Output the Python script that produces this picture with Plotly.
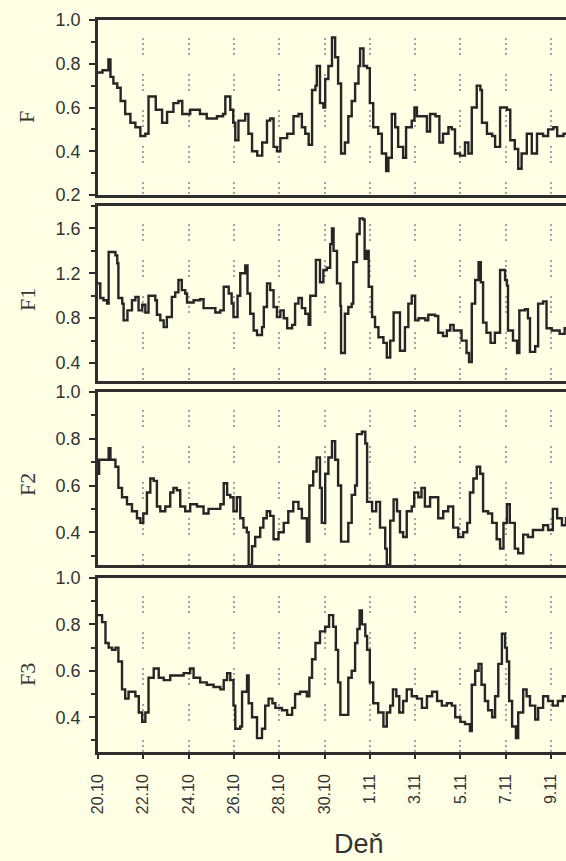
import plotly.graph_objects as go

# ---------------- data ----------------
tick_days = [0, 2, 4, 6, 8, 10, 12, 14, 16, 18, 20]
tick_labels = ["20.10", "22.10", "24.10", "26.10", "28.10", "30.10",
               "1.11", "3.11", "5.11", "7.11", "9.11"]

F_day = [0, 0.2, 0.46, 0.55, 0.68, 0.85, 1.0, 1.2, 1.43, 1.65, 1.87, 2.09, 2.23, 2.45, 2.55,
         2.83, 3.05, 3.33, 3.55, 3.72, 4.07, 4.5, 4.8, 5.25, 5.52, 5.62, 5.84, 5.97, 6.06,
         6.2, 6.5, 6.64, 6.8, 7.03, 7.25, 7.46, 7.6, 7.75, 7.9, 8.05, 8.35, 8.63, 8.85,
         9.0, 9.15, 9.3, 9.45, 9.6, 9.66, 9.8, 9.95, 10.03, 10.17, 10.33, 10.47, 10.6,
         10.73, 10.9, 11.05, 11.2, 11.35, 11.5, 11.57, 11.72, 11.88, 12.0, 12.15, 12.37,
         12.53, 12.72, 12.82, 12.97, 13.12, 13.25, 13.47, 13.6, 13.85, 13.97, 14.08, 14.3,
         14.52, 14.66, 14.9, 15.07, 15.23, 15.47, 15.62, 15.76, 15.98, 16.2, 16.35, 16.5,
         16.72, 16.88, 16.95, 17.17, 17.4, 17.53, 17.75, 18.05, 18.2, 18.4, 18.55, 18.7,
         18.93, 19.15, 19.38, 19.65, 19.87, 20.1, 20.27, 20.55, 20.8]
F_val = [0.76, 0.77, 0.82, 0.74, 0.71, 0.69, 0.63, 0.57, 0.53, 0.51, 0.47, 0.48, 0.65, 0.65, 0.59,
         0.53, 0.58, 0.62, 0.63, 0.57, 0.59, 0.57, 0.55, 0.56, 0.57, 0.65, 0.59, 0.53, 0.45,
         0.54, 0.57, 0.48, 0.40, 0.38, 0.44, 0.54, 0.55, 0.42, 0.40, 0.46, 0.48, 0.56, 0.57,
         0.51, 0.48, 0.43, 0.68, 0.70, 0.79, 0.62, 0.60, 0.73, 0.79, 0.92, 0.83, 0.71,
         0.39, 0.44, 0.56, 0.63, 0.71, 0.79, 0.87, 0.79, 0.78, 0.62, 0.51, 0.48,
         0.39, 0.31, 0.37, 0.57, 0.51, 0.42, 0.37, 0.51, 0.54, 0.60, 0.56, 0.56,
         0.49, 0.57, 0.56, 0.44, 0.48, 0.51, 0.50, 0.39, 0.38, 0.44, 0.39, 0.60,
         0.70, 0.68, 0.53, 0.48, 0.47, 0.42, 0.60, 0.59, 0.45, 0.41, 0.32, 0.39,
         0.48, 0.39, 0.48, 0.47, 0.50, 0.51, 0.47, 0.48, 0.48]

F1_day = [0, 0.1, 0.24, 0.4, 0.47, 0.77, 0.85, 0.9, 1.07, 1.13, 1.3, 1.5, 1.65, 1.79, 1.95,
          2.09, 2.23, 2.38, 2.53, 2.6, 2.75, 2.9, 3.04, 3.26, 3.41, 3.55, 3.7, 3.85, 3.93,
          4.22, 4.51, 4.66, 4.96, 5.18, 5.4, 5.55, 5.77, 5.9, 5.98, 6.16, 6.28, 6.5, 6.6,
          6.72, 6.87, 7.02, 7.24, 7.32, 7.46, 7.6, 7.75, 7.9, 8.05, 8.2, 8.35, 8.57, 8.7,
          8.85, 9.0, 9.15, 9.3, 9.37, 9.5, 9.62, 9.8, 9.95, 10.1, 10.25, 10.33, 10.4,
          10.55, 10.7, 10.73, 10.83, 10.9, 11.05, 11.2, 11.27, 11.43, 11.55, 11.7, 11.77,
          11.87, 11.95, 12.1, 12.23, 12.38, 12.6, 12.75, 12.9, 13.05, 13.25, 13.33, 13.47,
          13.55, 13.7, 13.85, 13.97, 14.0, 14.15, 14.45, 14.58, 14.88, 15.02, 15.23, 15.4,
          15.55, 15.7, 15.9, 16.05, 16.27, 16.38, 16.5, 16.65, 16.8, 16.9, 17.0, 17.15,
          17.33, 17.52, 17.67, 17.75, 17.97, 18.05, 18.1, 18.32, 18.5, 18.6, 18.85, 18.98,
          19.07, 19.3, 19.43, 19.65, 19.8, 20.03, 20.38, 20.6, 20.8]
F1_val = [1.11, 0.98, 0.96, 0.93, 1.39, 1.36, 1.29, 0.98, 0.93, 0.78, 0.87, 0.96, 0.99, 0.87, 0.92,
          0.85, 1.00, 1.00, 0.96, 0.83, 0.78, 0.72, 0.81, 0.99, 1.03, 1.14, 1.05, 1.02, 0.94,
          0.96, 0.97, 0.89, 0.89, 0.85, 0.87, 1.08, 1.02, 0.93, 0.81, 1.00, 1.20, 1.27, 1.02,
          0.84, 0.69, 0.65, 0.72, 0.90, 1.11, 1.05, 0.90, 0.81, 0.87, 0.80, 0.71, 0.74, 0.93,
          0.98, 0.89, 0.84, 0.74, 1.00, 1.00, 1.32, 1.12, 1.23, 1.25, 1.46, 1.60, 1.40,
          1.11, 0.91, 0.49, 0.49, 0.84, 0.90, 0.93, 1.30, 1.55, 1.69, 1.68, 1.33,
          1.40, 1.08, 0.81, 0.72, 0.63, 0.58, 0.45, 0.60, 0.85, 0.85, 0.51, 0.51,
          0.72, 0.93, 1.00, 1.00, 0.78, 0.80, 0.78, 0.83, 0.82, 0.67, 0.64, 0.69,
          0.74, 0.69, 0.69, 0.60, 0.49, 0.41, 0.93, 1.14, 1.30, 1.12, 0.76, 0.67,
          0.58, 0.67, 0.67, 1.23, 1.14, 1.09, 0.69, 0.60, 0.49, 0.87, 0.88, 0.80,
          0.50, 0.55, 0.93, 0.95, 0.71, 0.69, 0.66, 0.71, 0.70]

F2_day = [0, 0.05, 0.33, 0.47, 0.55, 0.77, 0.9, 1.06, 1.28, 1.5, 1.72, 1.87, 2.0, 2.16, 2.31,
          2.46, 2.6, 2.75, 2.97, 3.19, 3.33, 3.48, 3.63, 3.85, 4.07, 4.37, 4.66, 4.88, 5.18,
          5.4, 5.55, 5.7, 5.84, 5.98, 6.13, 6.28, 6.42, 6.57, 6.65, 6.8, 6.94, 7.16, 7.3,
          7.45, 7.6, 7.75, 7.97, 8.2, 8.4, 8.62, 8.85, 9.0, 9.22, 9.33, 9.5, 9.65, 9.8,
          9.88, 10.03, 10.17, 10.33, 10.47, 10.6, 10.73, 10.9, 11.05, 11.2, 11.35, 11.43,
          11.65, 11.8, 11.88, 12.1, 12.28, 12.45, 12.68, 12.75, 12.9, 13.05, 13.2, 13.33,
          13.47, 13.63, 13.85, 13.96, 14.14, 14.28, 14.43, 14.66, 14.88, 15.02, 15.24,
          15.46, 15.68, 15.9, 16.12, 16.3, 16.42, 16.57, 16.72, 16.87, 17.0, 17.22, 17.4,
          17.6, 17.75, 17.9, 18.05, 18.18, 18.4, 18.55, 18.77, 18.98, 19.2, 19.43, 19.65,
          19.87, 20.08, 20.27, 20.48, 20.66, 20.8]
F2_val = [0.65, 0.71, 0.71, 0.76, 0.71, 0.68, 0.59, 0.55, 0.52, 0.49, 0.46, 0.44, 0.48, 0.57, 0.63,
          0.62, 0.51, 0.49, 0.51, 0.57, 0.59, 0.58, 0.51, 0.49, 0.52, 0.51, 0.48, 0.50, 0.50,
          0.52, 0.61, 0.56, 0.55, 0.49, 0.55, 0.46, 0.42, 0.40, 0.26, 0.34, 0.38, 0.42, 0.46,
          0.49, 0.47, 0.37, 0.40, 0.44, 0.49, 0.53, 0.50, 0.46, 0.36, 0.60, 0.66, 0.72, 0.59,
          0.44, 0.65, 0.72, 0.79, 0.71, 0.60, 0.36, 0.36, 0.44, 0.56, 0.60, 0.82,
          0.83, 0.78, 0.53, 0.49, 0.53, 0.42, 0.33, 0.26, 0.45, 0.54, 0.49, 0.40,
          0.38, 0.49, 0.51, 0.57, 0.55, 0.59, 0.51, 0.55, 0.55, 0.46, 0.49,
          0.51, 0.42, 0.38, 0.40, 0.44, 0.57, 0.63, 0.68, 0.65, 0.49, 0.48, 0.44,
          0.37, 0.33, 0.44, 0.52, 0.44, 0.33, 0.31, 0.39, 0.38, 0.41, 0.41, 0.43,
          0.41, 0.50, 0.46, 0.43, 0.46, 0.46]

F3_day = [0, 0.18, 0.33, 0.47, 0.62, 0.77, 0.9, 1.06, 1.2, 1.35, 1.5, 1.65, 1.8, 1.95, 2.09,
          2.23, 2.46, 2.68, 2.9, 3.19, 3.48, 3.78, 4.07, 4.22, 4.51, 4.8, 5.1, 5.4, 5.55,
          5.7, 5.84, 5.98, 6.06, 6.28, 6.36, 6.5, 6.58, 6.65, 6.8, 7.02, 7.24, 7.38, 7.53,
          7.7, 7.83, 8.12, 8.35, 8.57, 8.7, 8.92, 9.22, 9.33, 9.45, 9.6, 9.8, 10.03, 10.2,
          10.38, 10.5, 10.6, 10.7, 10.9, 11.05, 11.2, 11.35, 11.45, 11.55, 11.65, 11.8,
          11.88, 12.0, 12.15, 12.37, 12.6, 12.75, 12.9, 13.02, 13.17, 13.3, 13.47, 13.63,
          13.85, 14.08, 14.3, 14.52, 14.75, 14.97, 15.18, 15.4, 15.62, 15.77, 16.0, 16.2,
          16.42, 16.5, 16.65, 16.8, 16.93, 17.08, 17.22, 17.4, 17.53, 17.67, 17.83, 17.97,
          18.05, 18.15, 18.28, 18.45, 18.55, 18.77, 18.92, 19.07, 19.3, 19.43, 19.65,
          19.87, 20.08, 20.3, 20.52, 20.8]
F3_val = [0.84, 0.81, 0.72, 0.70, 0.69, 0.70, 0.64, 0.52, 0.48, 0.51, 0.51, 0.49, 0.42, 0.38, 0.42,
          0.57, 0.61, 0.57, 0.56, 0.58, 0.58, 0.59, 0.61, 0.57, 0.55, 0.54, 0.53, 0.52, 0.56,
          0.59, 0.56, 0.45, 0.35, 0.36, 0.51, 0.51, 0.58, 0.46, 0.40, 0.31, 0.35, 0.45, 0.48,
          0.46, 0.44, 0.43, 0.41, 0.44, 0.50, 0.51, 0.49, 0.57, 0.65, 0.72, 0.77, 0.79, 0.84,
          0.79, 0.69, 0.55, 0.41, 0.41, 0.57, 0.60, 0.72, 0.78, 0.86, 0.80, 0.75,
          0.69, 0.55, 0.46, 0.42, 0.36, 0.42, 0.45, 0.52, 0.49, 0.42, 0.47, 0.52,
          0.49, 0.48, 0.44, 0.49, 0.51, 0.47, 0.45, 0.46, 0.45, 0.40, 0.38, 0.37,
          0.34, 0.54, 0.60, 0.63, 0.54, 0.47, 0.43, 0.40, 0.49, 0.63, 0.76, 0.70,
          0.64, 0.47, 0.36, 0.31, 0.42, 0.52, 0.49, 0.45, 0.39, 0.44, 0.49,
          0.47, 0.45, 0.47, 0.49, 0.48]

series_names = ["F", "F1", "F2", "F3"]
series_days = [F_day, F1_day, F2_day, F3_day]
series_vals = [F_val, F1_val, F2_val, F3_val]
y_ranges = [[0.2, 1.0], [0.24, 1.8], [0.26, 1.0], [0.25, 1.0]]
y_dticks = [0.2, 0.4, 0.2, 0.2]
y_tick0 = [0.2, 0.4, 0.2, 0.2]
y_minor = [0.1, 0.2, 0.1, 0.1]

# ---------------- layout geometry (pixels) ----------------
W, H = 566, 861
L, T, B = 98, 20, 109
plot_h = H - T - B
panel_top = [20, 206, 392, 578]
panel_bot = [195, 381, 565, 752]
title_y_px = [117, 300, 485, 675]

BG = "#FFFFE6"
INK = "#2e2e2e"
GRID_DASH = "0px,18px,2px,3px,2px,3px,2px,3px,2px,1px"


def py2paper(py):
    return (H - B - py) / plot_h


fig = go.Figure()
layout = dict(
    width=W, height=H,
    margin=dict(l=L, r=0, t=T, b=B, pad=0),
    paper_bgcolor=BG, plot_bgcolor=BG,
    showlegend=False,
    annotations=[],
)

for i in range(4):
    k = "" if i == 0 else str(i + 1)
    fig.add_trace(go.Scatter(
        x=series_days[i], y=series_vals[i], mode="lines",
        line=dict(color="#262626", width=2.4, shape="hv"),
        xaxis="x" + k, yaxis="y" + k, hoverinfo="skip",
    ))
    last = (i == 3)
    layout["xaxis" + k] = dict(
        domain=[0, 1], range=[0, 20.66], anchor="y" + k,
        showline=True, linecolor=INK, linewidth=2.5, mirror=True,
        showgrid=True, gridcolor="#a3a3a3", gridwidth=2, griddash=GRID_DASH,
        tickmode="array", tickvals=tick_days, ticktext=tick_labels,
        showticklabels=last, ticks="outside" if last else "",
        ticklen=4, tickwidth=1.5, tickcolor=INK,
        tickangle=-90, ticklabelstandoff=9,
        tickfont=dict(family="Liberation Sans, Arial, sans-serif", size=16, color="#333"),
        zeroline=False, fixedrange=True,
    )
    if i > 0:
        layout["xaxis" + k]["matches"] = "x"
    layout["yaxis" + k] = dict(
        domain=[py2paper(panel_bot[i]), py2paper(panel_top[i])],
        range=y_ranges[i], anchor="x" + k,
        showline=True, linecolor=INK, linewidth=2.5, mirror=False,
        showgrid=False, zeroline=False,
        tick0=y_tick0[i], dtick=y_dticks[i], tickformat=".1f",
        ticks="outside", ticklen=6, tickwidth=1.6, tickcolor=INK,
        ticklabelstandoff=5,
        minor=dict(ticks="outside", ticklen=4, tickwidth=1.6, tickcolor=INK,
                   tick0=y_tick0[i], dtick=y_minor[i], showgrid=False),
        tickfont=dict(family="Liberation Sans, Arial, sans-serif", size=18, color="#333"),
        fixedrange=True,
    )
    layout["annotations"].append(dict(
        text=series_names[i], xref="paper", yref="paper",
        x=(27 - L) / (W - L), y=py2paper(title_y_px[i]),
        xanchor="center", yanchor="middle", textangle=-90, showarrow=False,
        font=dict(family="Liberation Serif, Times New Roman, serif", size=22, color="#333"),
    ))

layout["annotations"].append(dict(
    text="Deň", xref="paper", yref="paper",
    x=(359 - L) / (W - L), y=py2paper(844),
    xanchor="center", yanchor="middle", showarrow=False,
    font=dict(family="Liberation Sans, Arial, sans-serif", size=27, color="#333"),
))

fig.update_layout(**layout)
fig.write_html("out.html")
